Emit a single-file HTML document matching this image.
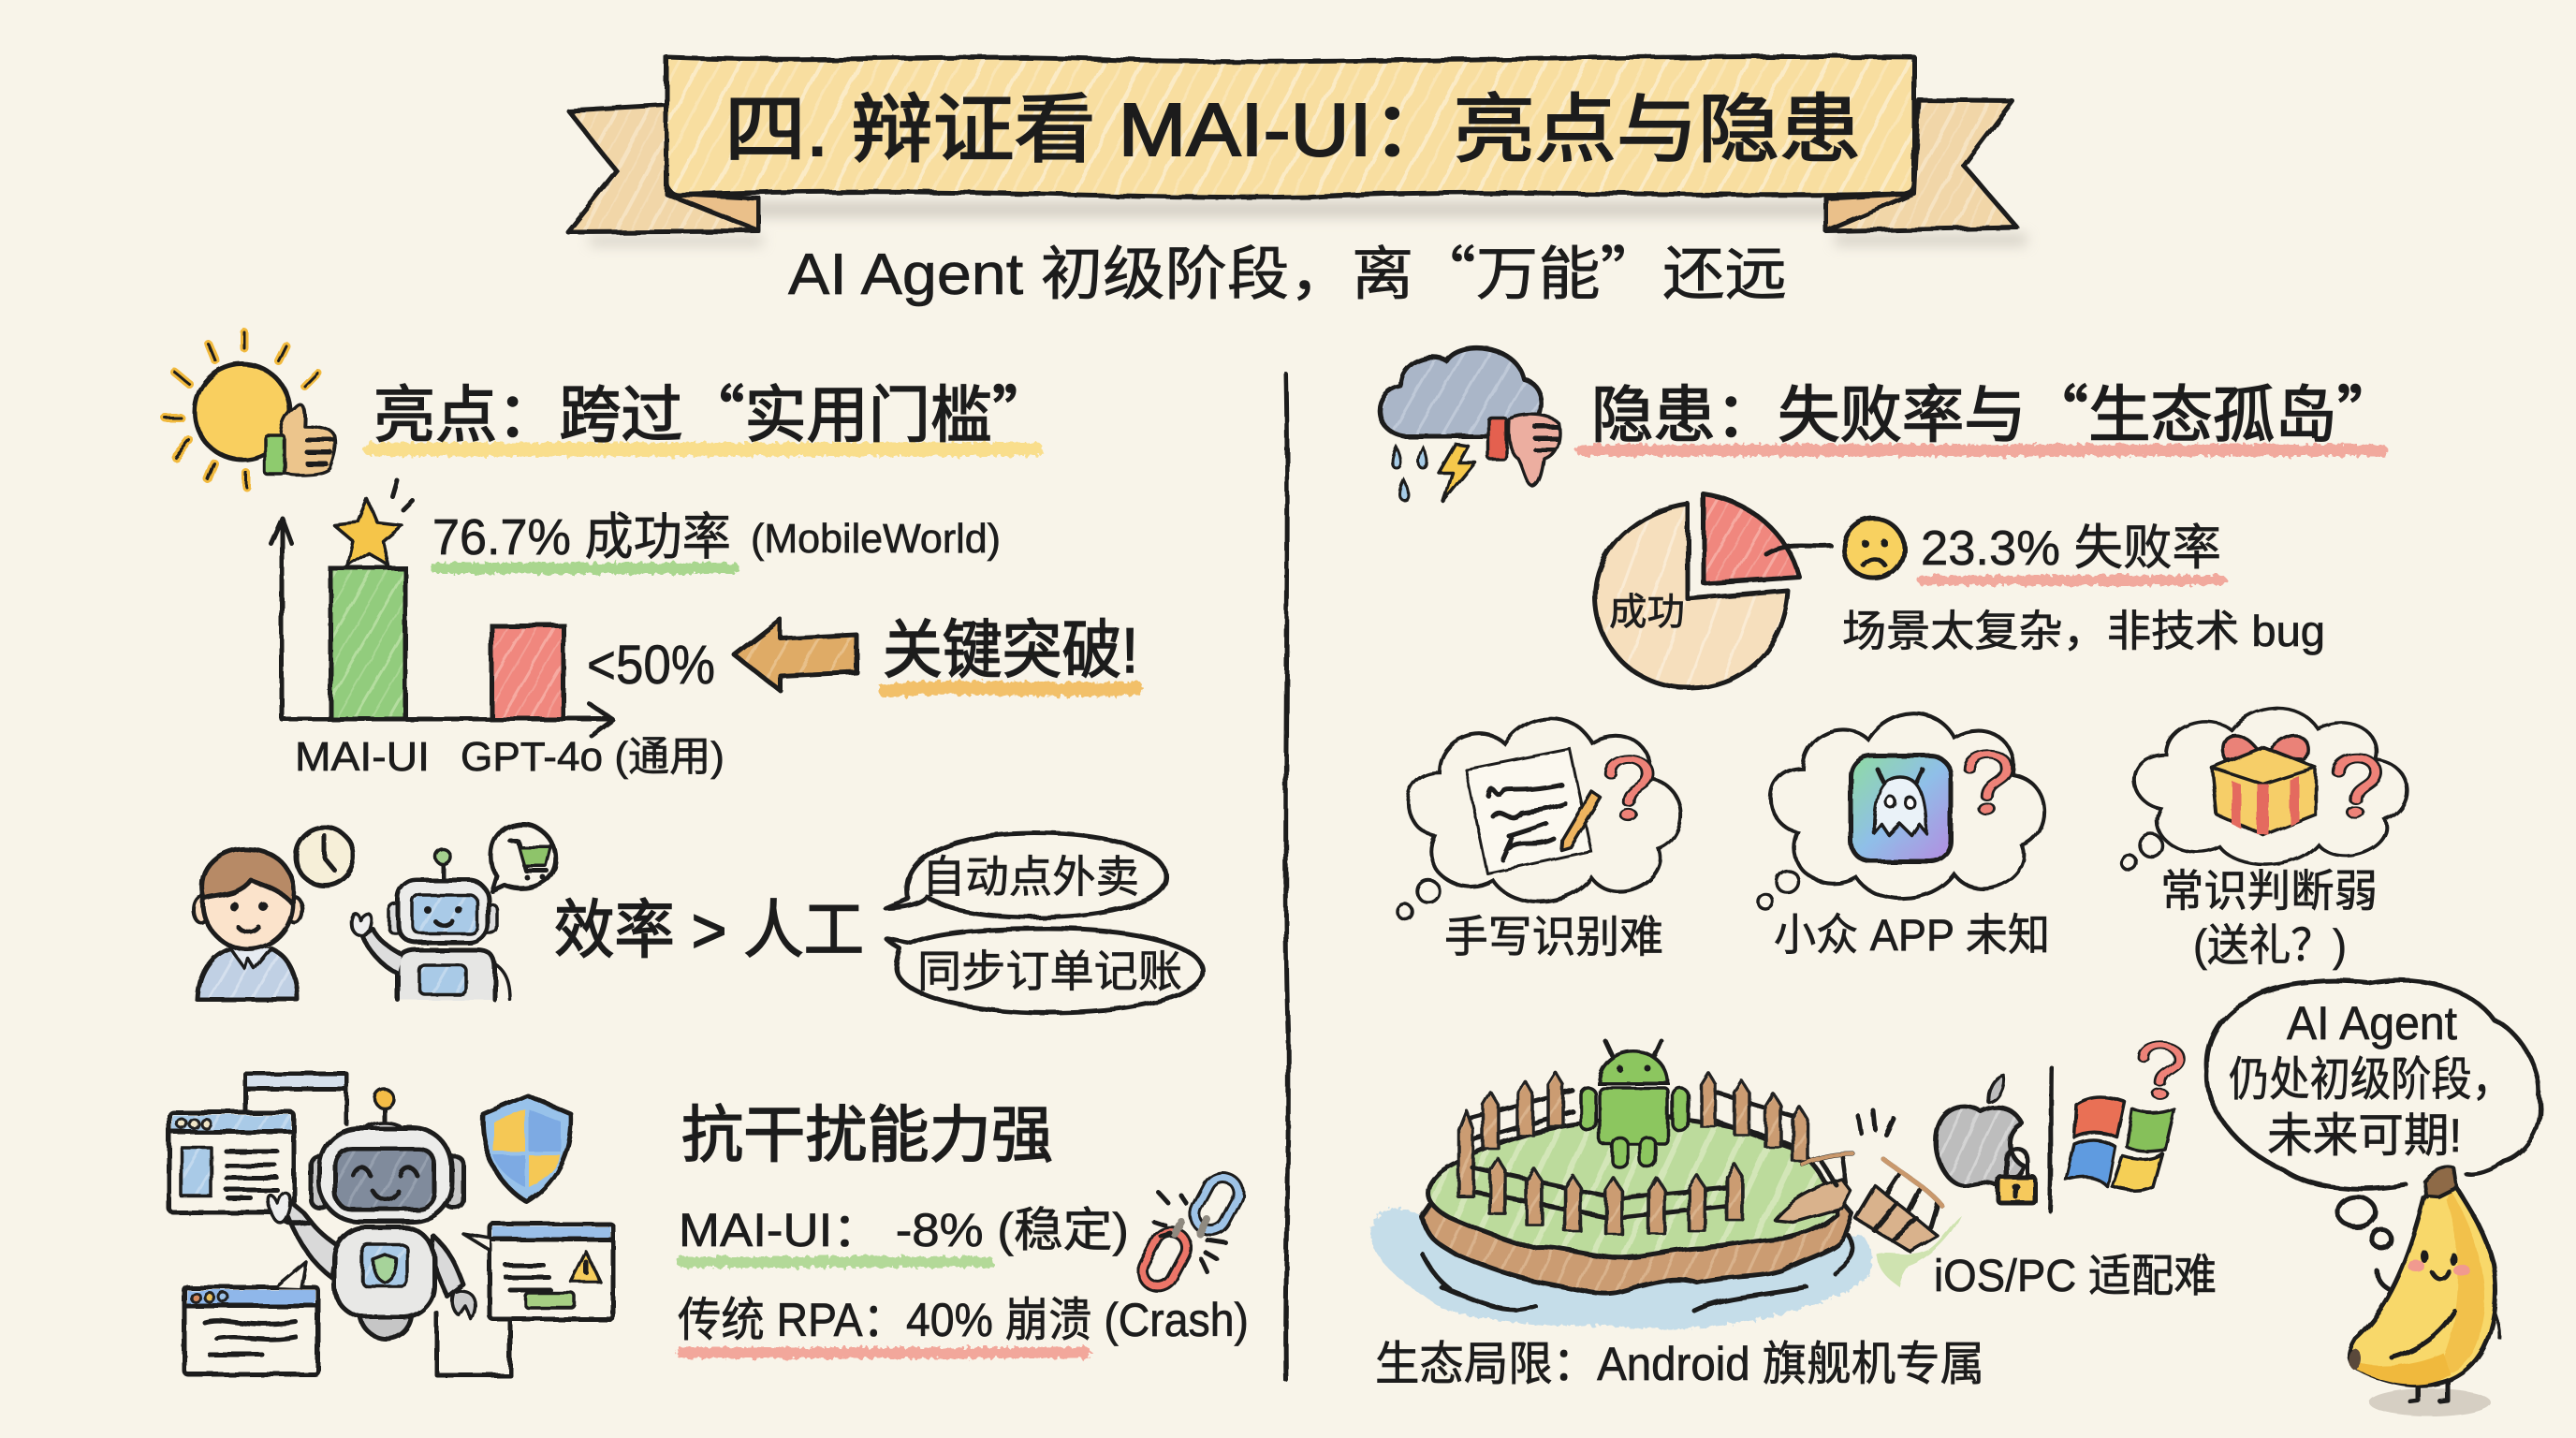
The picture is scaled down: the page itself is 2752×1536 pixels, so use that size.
<!DOCTYPE html>
<html lang="zh"><head><meta charset="utf-8"><title>辩证看 MAI-UI</title>
<style>
html,body{margin:0;padding:0;background:#f8f4e9;width:2752px;height:1536px;overflow:hidden}
svg{display:block}
text{font-family:"Liberation Sans","Noto Sans CJK SC",sans-serif;fill:#1c1c1c;stroke:#1c1c1c;stroke-width:.7;paint-order:stroke}
.cq{font-family:"Noto Sans CJK SC",sans-serif}
.h{stroke-width:1.6}
.s{fill:none;stroke:#1e1e1e;stroke-width:5;stroke-linecap:round;stroke-linejoin:round}
.o{stroke:#1e1e1e;stroke-width:5;stroke-linejoin:round;stroke-linecap:round}
.t{stroke:#1e1e1e;stroke-width:3.5;stroke-linejoin:round;stroke-linecap:round}
.u{fill:none;stroke-linecap:round}
</style></head><body>
<svg width="2752" height="1536" viewBox="0 0 2752 1536" xmlns="http://www.w3.org/2000/svg">
<defs>
<filter id="r" x="0" y="0" width="2752" height="1536" filterUnits="userSpaceOnUse"><feTurbulence type="fractalNoise" baseFrequency=".035" numOctaves="2" seed="4"/><feDisplacementMap in="SourceGraphic" scale="5"/></filter>
<filter id="g" x="0" y="0" width="2752" height="1536" filterUnits="userSpaceOnUse"><feTurbulence type="fractalNoise" baseFrequency=".18" numOctaves="2" seed="9"/><feDisplacementMap in="SourceGraphic" scale="9"/></filter>
<filter id="b" x="0" y="0" width="2752" height="1536" filterUnits="userSpaceOnUse"><feGaussianBlur stdDeviation="7"/></filter>
<pattern id="py" width="38" height="31" patternUnits="userSpaceOnUse" patternTransform="rotate(28)"><rect width="38" height="31" fill="#f8dea0"/><rect width="4" height="31" x="6" fill="#fbebc6"/><rect width="3" height="31" x="24" fill="#fae5b4"/></pattern>
<pattern id="pt" width="30" height="24" patternUnits="userSpaceOnUse" patternTransform="rotate(28)"><rect width="30" height="24" fill="#f1d6a8"/><rect width="4" height="24" x="5" fill="#f6e3c2"/><rect width="2" height="24" x="19" fill="#f4ddb6"/></pattern>
<pattern id="pg" width="32" height="24" patternUnits="userSpaceOnUse" patternTransform="rotate(30)"><rect width="32" height="24" fill="#92cc7d"/><rect width="3" height="24" x="6" fill="#b4dd9f"/><rect width="2" height="24" x="22" fill="#a8d793"/></pattern>
<pattern id="pr" width="28" height="22" patternUnits="userSpaceOnUse" patternTransform="rotate(30)"><rect width="28" height="22" fill="#f0877e"/><rect width="3" height="22" x="6" fill="#f6aaa1"/><rect width="2" height="22" x="19" fill="#f39e95"/></pattern>
<pattern id="po" width="28" height="22" patternUnits="userSpaceOnUse" patternTransform="rotate(30)"><rect width="28" height="22" fill="#dfab66"/><rect width="3" height="22" x="6" fill="#e8c08a"/></pattern>
<pattern id="pe" width="34" height="24" patternUnits="userSpaceOnUse" patternTransform="rotate(20)"><rect width="34" height="24" fill="#f6dfbd"/><rect width="3" height="24" x="6" fill="#faebd4"/></pattern>
<pattern id="pb" width="22" height="18" patternUnits="userSpaceOnUse" patternTransform="rotate(30)"><rect width="22" height="18" fill="#a9cae7"/><rect width="3" height="18" x="5" fill="#c2d9ee"/></pattern>
<pattern id="pc" width="24" height="18" patternUnits="userSpaceOnUse" patternTransform="rotate(30)"><rect width="24" height="18" fill="#aab6c8"/><rect width="3" height="18" x="5" fill="#bfc9d8"/></pattern>
<pattern id="pl" width="20" height="18" patternUnits="userSpaceOnUse" patternTransform="rotate(30)"><rect width="20" height="18" fill="#c0d0e4"/><rect width="3" height="18" x="5" fill="#d5e0ee"/></pattern>
<pattern id="ps" width="24" height="18" patternUnits="userSpaceOnUse" patternTransform="rotate(30)"><rect width="24" height="18" fill="#808b9c"/><rect width="3" height="18" x="5" fill="#959fae"/></pattern>
<pattern id="pm" width="30" height="22" patternUnits="userSpaceOnUse" patternTransform="rotate(25)"><rect width="30" height="22" fill="#bcdb9c"/><rect width="6" height="22" x="6" fill="#d3e6b8"/></pattern>
<pattern id="pd" width="20" height="18" patternUnits="userSpaceOnUse" patternTransform="rotate(25)"><rect width="20" height="18" fill="#cb9c72"/><rect width="3" height="18" x="6" fill="#d9b28c"/></pattern>
<pattern id="pa" width="18" height="16" patternUnits="userSpaceOnUse" patternTransform="rotate(25)"><rect width="18" height="16" fill="#bdbdbd"/><rect width="3" height="16" x="5" fill="#d4d4d4"/></pattern>
<linearGradient id="app" x1="0" y1="0" x2="1" y2="1"><stop offset="0" stop-color="#8fdca0"/><stop offset=".5" stop-color="#8fbfe8"/><stop offset="1" stop-color="#b48be0"/></linearGradient>
<path id="post" d="M-8 0L-8-62L0-80L8-62L8 0Z" fill="url(#pd)" stroke="#222" stroke-width="3.5" stroke-linejoin="round"/>
<path id="cloud" d="M32 128C-5 120-8 62 38 62C38 25 85 10 108 32C130-2 180-5 200 30C235 10 270 35 262 68C305 75 305 130 272 142C285 175 225 205 200 172C175 205 115 205 95 175C60 195 15 165 32 128Z" fill="#f8f4e9" stroke="#1e1e1e" stroke-width="4"/>
<g id="q"><path d="M-18-28C-18-60 26-58 24-26C22-6 2-8 2 16" fill="none" stroke="#1e1e1e" stroke-width="15" stroke-linecap="round"/><path d="M-18-28C-18-60 26-58 24-26C22-6 2-8 2 16" fill="none" stroke="#ee8278" stroke-width="9" stroke-linecap="round"/><circle cx="2" cy="36" r="9" fill="#ee8278" stroke="#1e1e1e" stroke-width="3"/></g>
</defs>
<rect width="2752" height="1536" fill="#f8f4e9"/>

<!-- shadows -->
<g fill="#b5b0a6" opacity=".55" filter="url(#b)"><path d="M800 215H1960V232H800Z"/><path d="M630 252H815V262H630Z"/><path d="M1960 250H2165V262H1960Z"/></g>

<!-- banner -->
<g filter="url(#r)">
<path class="o" d="M607 118L712 112V207L811 212V247L607 248L659 183Z" fill="url(#pt)" stroke-width="6"/>
<path class="o" d="M2050 107L2150 108L2098 177L2155 243L1951 247V212L2045 207Z" fill="url(#pt)" stroke-width="6"/>
<path d="M712 207L811 212V247Z" fill="#eac08a" stroke="#1e1e1e" stroke-width="5" stroke-linejoin="round"/>
<path d="M2045 207L1951 212V247Z" fill="#eac08a" stroke="#1e1e1e" stroke-width="5" stroke-linejoin="round"/>
<path class="o" d="M712 61C900 68 1000 56 1200 64C1400 70 1700 58 2045 61V195C2045 204 2040 206 2035 207C1800 212 1600 200 1400 210C1200 214 1000 198 725 208C716 208 712 200 712 195Z" fill="url(#py)" stroke-width="7"/>
</g>
<text class="h" x="774" y="166" font-size="80" textLength="1214" lengthAdjust="spacingAndGlyphs" style="stroke-width:2">四. 辩证看 MAI-UI：亮点与隐患</text>
<text x="842" y="314" font-size="62" textLength="1067" lengthAdjust="spacingAndGlyphs">AI Agent 初级阶段，离<tspan class="cq">“</tspan>万能<tspan class="cq">”</tspan>还远</text>

<!-- divider -->
<path class="s" filter="url(#r)" d="M1374 400C1378 600 1370 900 1376 1100C1378 1250 1372 1380 1374 1474" stroke-width="4"/>

<!-- underlines -->
<g filter="url(#g)" class="u"><path d="M396 480H1107" stroke="#f9de8c" stroke-width="15"/><path d="M466 607H784" stroke="#a9d68e" stroke-width="12"/><path d="M946 738C1020 730 1120 740 1214 735" stroke="#f2c069" stroke-width="15"/><path d="M729 1348H1056" stroke="#b3d998" stroke-width="12"/><path d="M728 1445H1160" stroke="#f2a79b" stroke-width="12"/><path d="M1690 481H2544" stroke="#f1a99d" stroke-width="13"/><path d="M2054 620H2373" stroke="#f1a99d" stroke-width="11"/></g>

<g filter="url(#r)">
<circle cx="259" cy="440" r="51" fill="#f9cf5e" stroke="#1e1e1e" stroke-width="5"/>
<g stroke="#f1b93c" stroke-width="9" stroke-linecap="round" fill="none"><path d="M261 355V372M223 368L230 385M306 370L298 386M187 398L202 410M339 398L325 412M177 447H194M187 488L202 470M222 512L229 495M263 520V505"/></g>
<g stroke="#1e1e1e" stroke-width="3" stroke-linecap="round" fill="none"><path d="M261 355V372M223 368L230 385M306 370L298 386M187 398L202 410M339 398L325 412M177 447H194M187 488L202 470M222 512L229 495M263 520V505"/></g>
<path class="t" d="M303 495C300 470 296 450 315 436C325 425 326 440 325 455C340 455 358 458 358 468C360 478 356 490 352 500C345 508 315 508 303 505Z" fill="#ecc58c"/>
<rect class="t" x="283" y="465" width="21" height="42" rx="3" fill="#8ecb6e"/>
<path class="s" stroke-width="3" d="M328 470H355M328 483H353M328 495H348"/>
</g>

<!-- chart -->
<g filter="url(#r)">
<rect x="353" y="607" width="80" height="161" fill="url(#pg)" stroke="#1e1e1e" stroke-width="5"/>
<rect x="525" y="668" width="77" height="100" fill="url(#pr)" stroke="#1e1e1e" stroke-width="5"/>
<path class="s" d="M301 768V556M289 580L301 553L311 580" stroke-width="5"/>
<path class="s" d="M301 768H652M630 752L655 769L632 786" stroke-width="6"/>
<path class="t" d="M393 534L403 558L429 561L409 578L415 604L393 590L371 604L377 578L357 561L383 558Z" fill="#f5c54a"/>
<path class="s" stroke-width="3" d="M419 530L424 513M431 545L441 535"/>
<path class="o" d="M785 700L834 662V682L915 678V718L834 722V738Z" fill="url(#po)"/>
</g>
<text x="462" y="592" font-size="54" textLength="319" lengthAdjust="spacingAndGlyphs">76.7% 成功率</text>
<text x="802" y="590" font-size="44" textLength="267" lengthAdjust="spacingAndGlyphs">(MobileWorld)</text>
<text x="627" y="730" font-size="58" textLength="137" lengthAdjust="spacingAndGlyphs">&lt;50%</text>
<text class="h" x="943" y="718" font-size="68" textLength="273" lengthAdjust="spacingAndGlyphs">关键突破!</text>
<text x="315" y="823" font-size="44" textLength="144" lengthAdjust="spacingAndGlyphs">MAI-UI</text>
<text x="492" y="823" font-size="44" textLength="282" lengthAdjust="spacingAndGlyphs">GPT-4o (通用)</text>
<text class="h" x="399" y="466" font-size="66" textLength="727" lengthAdjust="spacingAndGlyphs">亮点：跨过<tspan class="cq">“</tspan>实用门槛<tspan class="cq">”</tspan></text>

<!-- person & robot -->
<g filter="url(#r)">
<path class="o" d="M211 1068C212 1040 225 1020 246 1013L265 1024L290 1013C310 1022 318 1045 318 1068Z" fill="url(#pl)"/>
<path class="t" d="M246 1013L262 1035L265 1024L272 1035L290 1013" fill="#e6ebf2"/>
<ellipse cx="215" cy="972" rx="8" ry="14" fill="#f8dcc0" stroke="#1e1e1e" stroke-width="4"/><ellipse cx="315" cy="972" rx="8" ry="14" fill="#f8dcc0" stroke="#1e1e1e" stroke-width="4"/>
<ellipse class="o" cx="265" cy="965" rx="48" ry="49" fill="#fbe3cb"/>
<path class="o" d="M218 960C208 925 240 905 265 907C300 908 320 935 312 965C300 950 280 945 268 940C255 958 230 955 218 960Z" fill="#b78a66"/>
<circle cx="250" cy="968" r="5" fill="#1e1e1e"/><circle cx="281" cy="968" r="5" fill="#1e1e1e"/>
<path class="s" stroke-width="4" d="M254 990C260 997 270 997 276 990"/>
<circle class="o" cx="347" cy="915" r="31" fill="#f6efd8"/>
<path class="s" stroke-width="4" d="M347 893V917L358 930"/>
<path class="s" stroke-width="4" d="M473 923V942"/><circle class="t" cx="473" cy="915" r="8" fill="#a5d08e"/>
<rect class="t" x="415" y="965" width="16" height="32" rx="7" fill="#ddd"/><rect class="t" x="515" y="965" width="16" height="32" rx="7" fill="#ddd"/>
<rect class="o" x="425" y="940" width="96" height="67" rx="20" fill="#ececea"/>
<rect class="t" x="441" y="956" width="69" height="41" rx="8" fill="url(#pb)"/>
<circle cx="457" cy="972" r="4" fill="#1e1e1e"/><circle cx="490" cy="972" r="4" fill="#1e1e1e"/>
<path class="s" stroke-width="3.5" d="M465 984C470 990 478 990 483 984"/>
<path class="o" d="M425 1068V1030C425 1020 435 1015 445 1015H510C522 1015 529 1020 529 1035V1068" fill="#e6e6e4"/>
<rect class="t" x="448" y="1031" width="50" height="31" rx="6" fill="url(#pb)"/>
<path class="o" d="M425 1040C405 1030 395 1015 387 1000L398 992C405 1005 415 1012 430 1020" fill="#ddd"/>
<path class="t" d="M375 990C372 975 382 970 384 982C392 970 400 975 394 992C390 1002 378 1000 375 990Z" fill="#eee"/>
<path class="t" d="M529 1030C545 1040 545 1060 545 1068" fill="none"/>
<path class="o" d="M525 915C525 880 560 875 575 885C600 900 600 935 575 945C560 952 545 948 538 945L525 951L530 935C526 928 525 922 525 915Z" fill="#f8f4e9" stroke-width="4"/>
<path class="s" stroke-width="3" d="M545 898H553L562 930H584M557 905H587L582 924H560"/><path d="M556 906H586L582 923H561Z" fill="#8ec46b"/><circle cx="563" cy="937" r="3" fill="#1e1e1e"/><circle cx="580" cy="937" r="3" fill="#1e1e1e"/>
</g>
<text class="h" x="592" y="1017" font-size="68" textLength="331" lengthAdjust="spacingAndGlyphs">效率 > 人工</text>
<g filter="url(#r)" class="s" stroke-width="4.5">
<path d="M970 960C960 905 1040 890 1105 890C1190 890 1248 910 1246 938C1244 965 1180 980 1105 980C1060 980 1015 975 990 958C985 965 965 970 946 970C958 965 966 962 970 960Z" fill="#f8f4e9"/>
<path d="M974 1008C1000 995 1060 992 1120 992C1215 992 1285 1010 1285 1037C1285 1065 1210 1082 1120 1082C1040 1082 960 1065 958 1035C958 1025 962 1016 962 1014C955 1010 950 1006 947 1003C955 1004 965 1007 974 1008Z" fill="#f8f4e9"/>
</g>
<text x="985" y="953" font-size="47" textLength="232" lengthAdjust="spacingAndGlyphs">自动点外卖</text>
<text x="980" y="1054" font-size="47" textLength="283" lengthAdjust="spacingAndGlyphs">同步订单记账</text>

<!-- robot 2 and windows -->
<g filter="url(#r)">
<path class="s" stroke-width="3" d="M262 1188V1147H370V1200"/><rect x="264" y="1149" width="104" height="13" fill="#d5e0ec"/><path class="s" stroke-width="3" d="M264 1163H368"/>
<rect class="o" x="181" y="1188" width="133" height="107" rx="4" fill="#f8f4e9"/>
<rect x="184" y="1191" width="127" height="18" fill="url(#pb)"/><path class="s" stroke-width="4" d="M181 1209H314"/>
<circle cx="194" cy="1200" r="5" fill="#f0e5c6" stroke="#222" stroke-width="3"/><circle cx="207" cy="1200" r="5" fill="#f0e5c6" stroke="#222" stroke-width="3"/><circle cx="220" cy="1200" r="5" fill="#f0e5c6" stroke="#222" stroke-width="3"/>
<rect class="t" x="194" y="1226" width="32" height="52" fill="url(#pb)"/>
<path class="s" stroke-width="3.5" d="M242 1230H296M242 1245H294M242 1258H296M242 1271H296M244 1280H268"/>
<rect class="o" x="197" y="1375" width="143" height="93" rx="4" fill="#f8f4e9"/>
<rect x="200" y="1378" width="137" height="17" fill="#8fb7ea"/><path class="s" stroke-width="4" d="M197 1395H340"/>
<circle cx="209" cy="1386" r="5" fill="#d88a5c" stroke="#222" stroke-width="3"/><circle cx="224" cy="1386" r="5" fill="#e8bf5c" stroke="#222" stroke-width="3"/><circle cx="239" cy="1386" r="5" fill="#9dc2e8" stroke="#222" stroke-width="3"/>
<path class="t" d="M295 1375L327 1348L322 1376" fill="#f8f4e9"/>
<path class="s" stroke-width="3.5" d="M218 1412C240 1405 260 1420 316 1412M232 1430C260 1425 280 1435 316 1428M224 1447H280"/>
<path class="s" stroke-width="3" d="M467 1403V1469H545V1403"/>
<rect class="o" x="523" y="1307" width="132" height="102" rx="4" fill="#f8f4e9"/>
<rect x="526" y="1310" width="126" height="14" fill="#9abfe8"/><path class="s" stroke-width="4" d="M523 1324H655"/>
<path class="t" d="M523 1335L494 1317L523 1322" fill="#f8f4e9"/>
<path class="s" stroke-width="3.5" d="M540 1351H580M540 1364H586M545 1378H588"/>
<path class="t" d="M626 1337L641 1369H610Z" fill="#f6cd5b"/><path class="s" stroke-width="3" d="M626 1348V1359"/>
<rect class="t" x="561" y="1381" width="53" height="16" rx="4" fill="#a6cf83"/>
<path class="o" d="M516 1190L563 1170L610 1190C612 1230 595 1265 563 1284C531 1265 514 1230 516 1190Z" fill="#98c2ea"/>
<path d="M527 1198L561 1185V1230H527Z" fill="#f5c854"/><path d="M565 1185L599 1198V1230H565Z" fill="#7daae3"/><path d="M527 1234H561V1268C545 1260 532 1250 527 1234Z" fill="#7daae3"/><path d="M565 1234H599C594 1250 581 1260 565 1268Z" fill="#f5c854"/>
<path class="s" stroke-width="4" d="M410 1182V1205"/><circle class="t" cx="410" cy="1173" r="10" fill="#f5bd47"/>
<ellipse class="t" cx="410" cy="1207" rx="20" ry="8" fill="#ddd"/>
<rect class="o" x="332" y="1235" width="20" height="55" rx="9" fill="#c8c8c8"/><rect class="o" x="475" y="1235" width="20" height="55" rx="9" fill="#c8c8c8"/>
<path class="o" d="M330 1305C300 1310 290 1300 312 1285L325 1296C335 1310 345 1320 360 1330L355 1365C335 1350 320 1330 308 1300" fill="#d9d9d9"/>
<path class="t" d="M290 1295C280 1275 290 1270 296 1285C300 1268 312 1270 310 1290C305 1312 295 1310 290 1295Z" fill="#eee"/>
<path class="o" d="M463 1320C485 1340 490 1360 495 1372L478 1385C470 1368 465 1355 462 1345Z" fill="#d9d9d9"/>
<path class="t" d="M485 1380C510 1375 512 1395 504 1410L497 1395L490 1405C482 1398 482 1388 485 1380Z" fill="#ccc"/>
<path class="o" d="M385 1400C385 1440 440 1440 440 1400Z" fill="#c6c6c6"/>
<rect class="o" x="357" y="1311" width="107" height="96" rx="34" fill="#e8e8e6"/>
<rect class="t" x="387" y="1329" width="48" height="45" rx="6" fill="url(#pb)"/>
<path class="t" d="M411 1340L424 1345C424 1358 420 1366 411 1370C402 1366 398 1358 398 1345Z" fill="#a6d39a"/>
<rect class="o" x="341" y="1205" width="142" height="100" rx="42" fill="#ececea"/>
<rect class="o" x="358" y="1227" width="107" height="65" rx="18" fill="url(#ps)"/>
<path class="s" stroke-width="4.5" d="M378 1256C382 1245 392 1245 396 1256M428 1256C432 1245 442 1245 446 1256M398 1272C405 1284 418 1284 425 1272"/>
<!-- chain -->
<rect x="1283" y="1256" width="34" height="60" rx="17" transform="rotate(28 1300 1286)" fill="none" stroke="#1e1e1e" stroke-width="13"/>
<rect x="1283" y="1256" width="34" height="60" rx="17" transform="rotate(28 1300 1286)" fill="none" stroke="#9ec3e6" stroke-width="7"/>
<rect x="1227" y="1314" width="34" height="62" rx="17" transform="rotate(28 1244 1345)" fill="none" stroke="#1e1e1e" stroke-width="13"/>
<rect x="1227" y="1314" width="34" height="62" rx="17" transform="rotate(28 1244 1345)" fill="none" stroke="#ec7468" stroke-width="7"/>
<path d="M1282 1318L1290 1303M1255 1318L1262 1305" stroke="#8f8a80" stroke-width="8" stroke-linecap="round"/>
<path class="s" stroke-width="3.5" d="M1248 1285L1238 1274M1268 1286L1262 1277M1232 1304L1244 1308M1240 1320L1250 1317M1290 1325L1310 1328M1288 1338L1300 1345M1283 1345L1289 1358"/>
</g>
<text class="h" x="728" y="1235" font-size="66" textLength="397" lengthAdjust="spacingAndGlyphs">抗干扰能力强</text>
<text x="725" y="1331" font-size="50" textLength="481" lengthAdjust="spacingAndGlyphs">MAI-UI： -8% (稳定)</text>
<text x="724" y="1427" font-size="50" textLength="610" lengthAdjust="spacingAndGlyphs">传统 RPA：40% 崩溃 (Crash)</text>

<!-- RIGHT heading -->
<g filter="url(#r)">
<path class="o" d="M1500 466C1465 460 1465 418 1496 412C1495 385 1530 375 1545 385C1560 362 1620 368 1628 405C1650 410 1650 440 1640 450L1590 466Z" fill="url(#pc)"/>
<path d="M1492 478C1486 490 1486 500 1492 500C1498 500 1498 490 1492 478Z M1520 478C1514 490 1514 500 1520 500C1526 500 1526 490 1520 478Z M1500 513C1494 525 1494 534 1500 534C1506 534 1506 525 1500 513Z" fill="#a6cbe6" stroke="#1e1e1e" stroke-width="3"/>
<path class="t" d="M1555 474L1537 505H1552L1542 536L1576 494H1558L1568 476Z" fill="#f6c84b"/>
<path class="t" d="M1612 448C1630 440 1655 442 1665 452C1668 468 1664 485 1650 490C1648 505 1645 518 1638 520C1630 518 1628 500 1622 490C1614 485 1610 470 1612 448Z" fill="#ecaea0"/>
<rect class="t" x="1590" y="446" width="19" height="45" rx="3" fill="#e4614f"/>
<path class="s" stroke-width="3" d="M1640 456H1664M1640 468H1664M1640 480H1660"/>
<!-- pie -->
<path class="o" d="M1803 538V640L1910 631C1905 700 1855 735 1805 735C1745 735 1704 690 1704 637C1704 585 1750 545 1803 538Z" fill="url(#pe)"/>
<path class="o" d="M1820 528C1870 535 1910 570 1922 616L1820 623Z" fill="url(#pr)"/>
<path class="s" stroke-width="3.5" d="M1887 592C1910 578 1930 585 1956 583"/>
<circle class="o" cx="2002" cy="586" r="32" fill="#f8d160"/>
<circle cx="1992" cy="580" r="4" fill="#1e1e1e"/><circle cx="2013" cy="580" r="4" fill="#1e1e1e"/><path class="s" stroke-width="3.5" d="M1991 604C1997 595 2008 595 2014 604"/>
<!-- thought clouds -->
<use href="#cloud" transform="translate(1500 762) scale(1 1.02)"/>
<use href="#cloud" transform="translate(1888 757) scale(1 1.03)"/>
<use href="#cloud" transform="translate(2276 752) scale(1 .87)"/>
<g fill="#f8f4e9" stroke="#1e1e1e" stroke-width="3.5"><circle cx="1526" cy="952" r="12"/><circle cx="1501" cy="974" r="8"/><circle cx="1910" cy="942" r="12"/><circle cx="1886" cy="963" r="8"/><circle cx="2298" cy="903" r="12"/><circle cx="2275" cy="922" r="8"/></g>
<path d="M1566 822L1677 800L1700 909L1589 933Z" fill="#fbf8ef" stroke="#1e1e1e" stroke-width="3"/>
<path class="s" stroke-width="2.5" d="M1590 850C1594 830 1598 858 1606 846C1612 840 1620 848 1668 838M1595 872C1605 860 1612 882 1625 868C1640 866 1655 864 1672 858M1612 893C1630 888 1640 884 1652 880M1605 918C1615 895 1618 888 1612 906C1628 896 1640 906 1660 896"/>
<path class="t" d="M1700 845L1710 852L1678 905L1668 908L1669 897Z" fill="#eeb45f" stroke-width="3"/>
<use href="#q" transform="translate(1738 846) scale(.95 .68)"/>
<rect class="o" x="1977" y="807" width="107" height="113" rx="22" fill="url(#app)"/>
<path class="t" d="M2002 890C2002 845 2012 830 2030 830C2048 830 2058 845 2058 890L2050 880L2042 892L2030 880L2018 892L2010 880Z" fill="#eaf2f8"/>
<path class="s" stroke-width="3" d="M2012 835L2006 822M2048 835L2054 822"/><ellipse cx="2020" cy="857" rx="5" ry="6" fill="#fff" stroke="#1e1e1e" stroke-width="3"/><ellipse cx="2040" cy="857" rx="5" ry="6" fill="#fff" stroke="#1e1e1e" stroke-width="3"/>
<use href="#q" transform="translate(2121 840) scale(.95 .68)"/>
<path class="t" d="M2418 810C2395 770 2365 785 2378 812ZM2418 810C2445 770 2475 785 2462 812Z" fill="#ea8278"/>
<path class="t" d="M2363 820L2418 798L2474 820V870L2418 892L2368 870Z" fill="#f6ce68"/>
<path class="t" d="M2363 820L2418 838L2474 820M2418 838V892" fill="none"/>
<path d="M2384 834L2394 838V885L2384 880Z" fill="#e46a5e"/><path d="M2412 838H2424V892H2412Z" fill="#e46a5e"/><path d="M2446 833L2456 829V877L2446 882Z" fill="#e46a5e"/>
<use href="#q" transform="translate(2515 844) scale(.95 .68)"/>
</g>
<text class="h" x="1700" y="466" font-size="66" textLength="863" lengthAdjust="spacingAndGlyphs">隐患：失败率与<tspan class="cq">“</tspan>生态孤岛<tspan class="cq">”</tspan></text>
<text x="2052" y="603" font-size="52" textLength="321" lengthAdjust="spacingAndGlyphs">23.3% 失败率</text>
<text x="1968" y="690" font-size="46" textLength="516" lengthAdjust="spacingAndGlyphs">场景太复杂，非技术 bug</text>
<text x="1719" y="667" font-size="40" textLength="81" lengthAdjust="spacingAndGlyphs">成功</text>
<text x="1543" y="1017" font-size="47" textLength="234" lengthAdjust="spacingAndGlyphs">手写识别难</text>
<text x="1895" y="1015" font-size="47" textLength="295" lengthAdjust="spacingAndGlyphs">小众 APP 未知</text>
<text x="2308" y="968" font-size="47" textLength="232" lengthAdjust="spacingAndGlyphs">常识判断弱</text>
<text x="2343" y="1026" font-size="47" textLength="164" lengthAdjust="spacingAndGlyphs">(送礼？)</text>

<!-- island -->
<g filter="url(#g)" opacity=".62"><path d="M1465 1310C1480 1280 1500 1290 1520 1300L1990 1320C2010 1345 2000 1370 1960 1385C1880 1420 1760 1425 1720 1415C1640 1420 1540 1405 1530 1390C1490 1365 1460 1340 1465 1310Z" fill="#a6cfe9"/></g>
<g filter="url(#r)">
<path class="o" d="M1519 1300C1525 1325 1540 1330 1556 1340C1590 1355 1620 1365 1647 1370C1690 1378 1710 1385 1730 1380C1760 1372 1790 1362 1813 1370C1850 1362 1880 1365 1904 1357C1940 1340 1965 1335 1971 1320L1979 1297L1930 1240H1560Z" fill="url(#pd)"/>
<path class="o" d="M1527 1267C1535 1250 1550 1245 1564 1237C1610 1215 1650 1205 1689 1200C1740 1190 1780 1192 1813 1197C1860 1205 1900 1215 1921 1227C1935 1240 1942 1250 1946 1257C1955 1270 1962 1285 1962 1297C1940 1315 1925 1318 1904 1323C1870 1325 1850 1332 1813 1333C1780 1335 1750 1345 1722 1343C1690 1340 1660 1330 1639 1333C1610 1325 1575 1312 1548 1300C1530 1290 1522 1280 1527 1267Z" fill="url(#pm)"/>
<path class="s" stroke-width="4" d="M1568 1220L1680 1187M1568 1195L1680 1165M1825 1165L1925 1195M1825 1195L1925 1230"/>
<use href="#post" transform="translate(1566 1278) scale(1 1.15)"/><use href="#post" transform="translate(1593 1227) scale(1 .75)"/><use href="#post" transform="translate(1629 1212) scale(1 .72)"/><use href="#post" transform="translate(1662 1203) scale(1 .72)"/><use href="#post" transform="translate(1825 1203) scale(1 .72)"/><use href="#post" transform="translate(1861 1212) scale(1 .72)"/><use href="#post" transform="translate(1894 1225) scale(1 .72)"/><use href="#post" transform="translate(1923 1240) scale(1 .72)"/>
<path d="M1708 1123m0 34a37 34 0 0 1 74 0Z" fill="#8cc65f" stroke="#1e1e1e" stroke-width="4"/>
<path class="s" stroke-width="3.5" d="M1722 1127L1715 1112M1768 1127L1775 1112"/>
<circle cx="1730" cy="1141" r="3.5" fill="#1e1e1e"/><circle cx="1760" cy="1141" r="3.5" fill="#1e1e1e"/>
<rect class="t" x="1709" y="1162" width="73" height="60" rx="4" fill="#8cc65f"/>
<rect class="t" x="1689" y="1162" width="16" height="46" rx="8" fill="#8cc65f"/><rect class="t" x="1787" y="1162" width="16" height="46" rx="8" fill="#8cc65f"/>
<rect class="t" x="1722" y="1215" width="17" height="32" rx="8" fill="#8cc65f"/><rect class="t" x="1752" y="1215" width="17" height="32" rx="8" fill="#8cc65f"/>
<path class="s" stroke-width="4.5" d="M1573 1247L1726 1280L1855 1267M1577 1273L1726 1302L1850 1288"/>
<use href="#post" transform="translate(1600 1297) scale(1.05 .75)"/><use href="#post" transform="translate(1639 1308) scale(1.05 .75)"/><use href="#post" transform="translate(1680 1315) scale(1.05 .75)"/><use href="#post" transform="translate(1724 1318) scale(1.05 .75)"/><use href="#post" transform="translate(1770 1318) scale(1.05 .75)"/><use href="#post" transform="translate(1813 1315) scale(1.05 .75)"/><use href="#post" transform="translate(1853 1303) scale(1.05 .75)"/>
<!-- bridge -->
<path d="M2005 1340C2020 1335 2040 1345 2060 1335C2075 1325 2085 1305 2095 1298C2085 1320 2060 1345 2040 1352C2030 1365 2030 1375 2030 1375C2015 1365 2005 1355 2005 1340Z" fill="#cfe3b0"/>
<path class="t" d="M1896 1303C1915 1280 1935 1270 1968 1260L1977 1272L1968 1290L1915 1305Z" fill="#d9b28c"/>
<path class="s" stroke-width="3" d="M1945 1240L1962 1266M1968 1235L1972 1264"/>
<path class="s" stroke-width="9" d="M1925 1243C1945 1235 1960 1232 1979 1232"/><path fill="none" stroke="#c9986c" stroke-width="4" stroke-linecap="round" d="M1925 1243C1945 1235 1960 1232 1979 1232"/>
<path class="t" d="M1983 1302L2004 1267L2070 1320L2041 1337Z" fill="#d9b28c"/>
<path class="s" stroke-width="3" d="M2002 1314L2026 1285M2022 1325L2048 1302"/>
<path class="s" stroke-width="3" d="M2030 1252L2015 1275M2052 1270L2040 1293M2070 1283L2062 1310"/>
<path class="s" stroke-width="9" d="M2012 1238C2035 1255 2060 1270 2074 1287"/><path fill="none" stroke="#c9986c" stroke-width="5" stroke-linecap="round" d="M2012 1238C2035 1255 2060 1270 2074 1287"/>
<path class="s" stroke-width="3" d="M1988 1210L1985 1192M2003 1206L2001 1186M2015 1212L2023 1195"/>
<path class="s" stroke-width="4" d="M1520 1340C1530 1360 1540 1370 1550 1378M1540 1375C1590 1395 1610 1405 1640 1395M1810 1400C1840 1385 1880 1385 1930 1375M1960 1360C1980 1345 1985 1335 1975 1320"/>
<!-- apple, lock, windows -->
<path class="o" d="M2116 1187C2095 1175 2068 1185 2068 1220C2068 1245 2085 1268 2100 1267C2112 1265 2118 1262 2132 1266C2150 1268 2160 1250 2162 1245C2145 1238 2140 1210 2160 1200C2150 1180 2130 1180 2116 1187Z" fill="url(#pa)"/>
<path class="t" d="M2124 1177C2122 1165 2130 1150 2140 1148C2142 1160 2135 1176 2124 1177Z" fill="url(#pa)"/>
<path class="s" stroke-width="4" d="M2143 1257V1240C2143 1222 2166 1222 2166 1240V1257"/>
<rect class="o" x="2135" y="1257" width="39" height="28" rx="3" fill="#f6c95c"/><circle cx="2154" cy="1268" r="4" fill="#1e1e1e"/><path class="s" stroke-width="3.5" d="M2154 1270V1279"/>
<path class="s" stroke-width="3" d="M2191 1140C2190 1200 2192 1240 2190 1293"/>
<path class="t" d="M2218 1180C2232 1170 2250 1170 2270 1177L2262 1215C2245 1208 2230 1208 2216 1215Z" fill="#e96f55"/>
<path class="t" d="M2278 1185C2295 1192 2310 1190 2323 1185L2313 1228C2300 1230 2285 1232 2272 1225Z" fill="#86c05a"/>
<path class="t" d="M2216 1222C2230 1216 2245 1215 2260 1225L2252 1268C2240 1255 2225 1255 2207 1260Z" fill="#5f9be0"/>
<path class="t" d="M2268 1235C2285 1240 2300 1240 2310 1232L2300 1268C2285 1275 2272 1272 2257 1268Z" fill="#f5cf57"/>
<use href="#q" transform="translate(2306 1147) scale(.88 .6)"/>
<!-- banana -->
<ellipse cx="2596" cy="1498" rx="65" ry="15" fill="#c8bfb2" opacity=".7"/>
<path class="s" stroke-width="4" d="M2583 1465V1496L2575 1497M2615 1465V1496L2607 1497"/>
<path d="M2644 1355C2660 1390 2672 1410 2670 1430" fill="none" stroke="#1e1e1e" stroke-width="3.5"/>
<path class="s" stroke-width="4" d="M2566 1380C2550 1380 2540 1370 2540 1358"/>
<path class="o" d="M2590 1280C2600 1272 2618 1262 2624 1268C2638 1290 2655 1315 2664 1350C2672 1400 2660 1450 2625 1470C2590 1490 2540 1475 2516 1460C2505 1450 2510 1440 2516 1430C2550 1400 2572 1350 2590 1280Z" fill="#f8d86b" stroke-width="4"/>
<path d="M2612 1280C2625 1315 2640 1400 2600 1470C2620 1470 2645 1455 2650 1420C2665 1370 2640 1305 2618 1272Z" fill="#f2c14b"/>
<path d="M2516 1455C2545 1465 2590 1455 2610 1445L2618 1468C2590 1488 2545 1478 2516 1462Z" fill="#f0b93c"/>
<path class="s" stroke-width="3" d="M2555 1450C2590 1440 2610 1420 2622 1400"/>
<path class="t" d="M2592 1277L2590 1262C2600 1250 2612 1245 2622 1248L2625 1268L2605 1278Z" fill="#8e6a47"/>
<ellipse cx="2516" cy="1452" rx="7" ry="11" fill="#5a4a3a"/>
<ellipse cx="2591" cy="1343" rx="4" ry="7" fill="#1e1e1e"/><ellipse cx="2621" cy="1345" rx="4" ry="7" fill="#1e1e1e"/>
<ellipse cx="2582" cy="1353" rx="9" ry="6" fill="#f19a8f"/><ellipse cx="2630" cy="1357" rx="9" ry="6" fill="#f19a8f"/>
<path class="s" stroke-width="3.5" d="M2598 1359C2603 1368 2612 1368 2616 1358"/>
<path class="s" stroke-width="4" d="M2571 1266C2520 1275 2470 1270 2440 1250C2385 1225 2355 1180 2358 1145C2355 1115 2370 1085 2400 1070C2425 1050 2480 1045 2530 1050C2585 1040 2640 1055 2665 1090C2690 1100 2715 1140 2712 1170C2720 1205 2695 1235 2675 1240C2660 1250 2645 1255 2634 1253"/>
<ellipse class="s" stroke-width="4" cx="2518" cy="1295" rx="20" ry="16"/>
<circle class="s" stroke-width="4" cx="2544" cy="1323" r="10"/>
</g>
<text x="2066" y="1379" font-size="48" textLength="302" lengthAdjust="spacingAndGlyphs">iOS/PC 适配难</text>
<text x="1469" y="1474" font-size="50" textLength="651" lengthAdjust="spacingAndGlyphs">生态局限：Android 旗舰机专属</text>
<text x="2443" y="1110" font-size="50" textLength="182" lengthAdjust="spacingAndGlyphs">AI Agent</text>
<text x="2381" y="1170" font-size="50" textLength="303" lengthAdjust="spacingAndGlyphs">仍处初级阶段，</text>
<text x="2422" y="1230" font-size="50" textLength="208" lengthAdjust="spacingAndGlyphs">未来可期!</text>
</svg>
</body></html>
